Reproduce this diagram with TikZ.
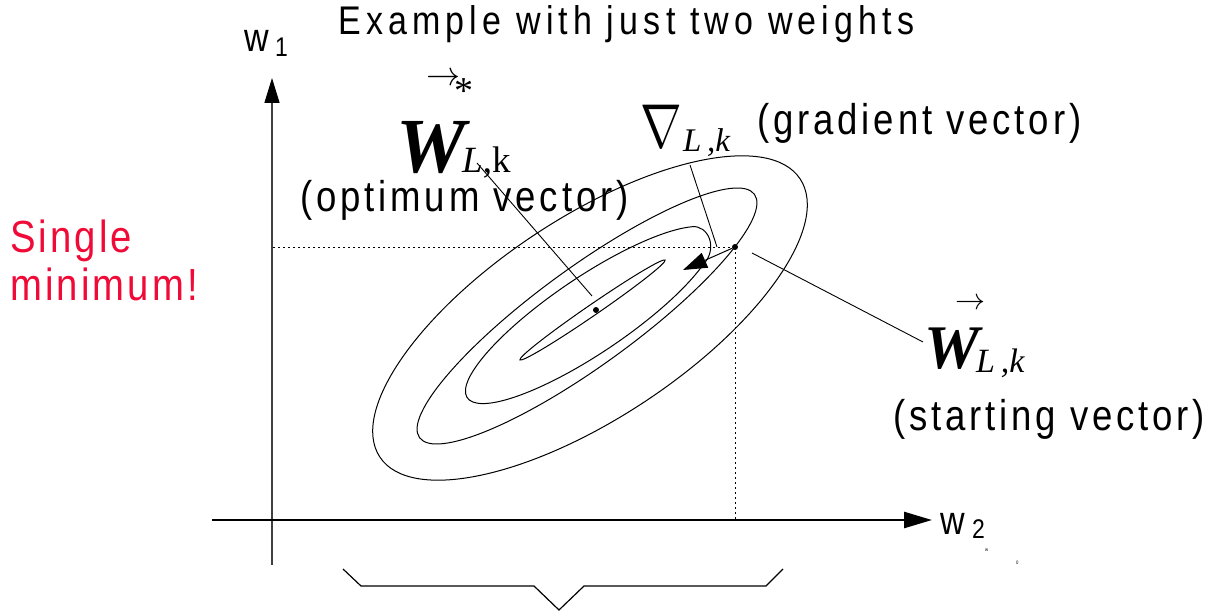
\documentclass[tikz,border=0pt]{standalone}
\usepackage{fontspec}
\setmainfont{Liberation Serif}
\usepackage{graphicx}
\newfontfamily\labfont[FakeStretch=0.85,LetterSpace=9]{Liberation Sans}
\newfontfamily\titlefont[FakeStretch=0.85,LetterSpace=13]{Liberation Sans}
\newfontfamily\redfont[FakeStretch=0.85,LetterSpace=7]{Liberation Sans}
\usetikzlibrary{arrows.meta}
\definecolor{minred}{RGB}{240,10,55}
\begin{document}
\begin{tikzpicture}[x=1pt,y=-1pt,
  lbl/.style={inner sep=0pt, anchor=base west},
  cont/.style={line width=1pt},
  leader/.style={line width=0.9pt},
  guide/.style={line width=1pt, dash pattern=on 2pt off 3pt},
  dotnode/.style={circle, fill=black, inner sep=0pt, minimum size=6pt},
  sanslab/.style={lbl, font=\labfont\fontsize{43}{43}\selectfont},
]
\useasboundingbox (0,0) rectangle (1207,615);

% axes
\coordinate (yb) at (272,565);
\coordinate (yt) at (272,78);
\coordinate (xl) at (212,520);
\coordinate (xr) at (932,520);
\draw[line width=1.4pt, black!75, -{Triangle[length=25pt,width=15pt,black]}] (yb) -- (yt);
\draw[line width=2.5pt, -{Triangle[length=28pt,width=16pt]}] (xl) -- (xr);

% contours
\draw[cont, rotate around={33.5:(590,318)}] (590,318) ellipse [x radius=252pt, y radius=100pt];
\draw[cont, rotate around={36:(587,316)}] (587,316) ellipse [x radius=207pt, y radius=49pt];
\coordinate (h1) at (692.2,226.7);
\coordinate (h2) at (702.7,265.3);
\draw[cont, rotate around={34:(590,315)}] (711.2,336.8) arc[start angle=-35, end angle=-335, x radius=148pt, y radius=38pt];
\draw[cont] (h1) .. controls (708,225) and (719,248) .. (h2);
\draw[cont, rotate around={34.5:(592.5,310)}] (592.5,310) ellipse [x radius=88pt, y radius=5.5pt];

% points
\node[dotnode] (start) at (735,247) {};
\node[dotnode] (opt) at (596,310) {};
\coordinate (gradtip) at (683,270);
\draw[guide] (start.center) -- (start.center -| yb);
\draw[guide] (start.center) -- (start.center |- xl);
\draw[line width=1pt, -{Triangle[length=24pt,width=16pt]}] (start) -- (gradtip);

% labels
\node[lbl, font=\titlefont\fontsize{40}{40}\selectfont] (title) at (338,35) {Example with just two weights};

\node[lbl, font=\labfont\fontsize{40}{40}\selectfont] (w1) at (244,52) {w};
\node[lbl, font=\labfont\fontsize{27}{27}\selectfont] (w1s) at (275,57) {1};
\node[lbl, font=\labfont\fontsize{40}{40}\selectfont] (w2) at (940,534) {w};
\node[lbl, font=\labfont\fontsize{27}{27}\selectfont] (w2s) at (972,538) {2};
\node[lbl, font=\labfont\fontsize{5}{5}\selectfont] (m1) at (985,551) {w};
\node[lbl, font=\labfont\fontsize{5}{5}\selectfont] (m2) at (1016,564) {0};

\node[lbl, font=\redfont\fontsize{45}{45}\selectfont, text=minred] (single) at (10,252) {Single};
\node[lbl, font=\redfont\fontsize{45}{45}\selectfont, text=minred] (minimum) at (10,300) {minimum!};

% optimum vector
\node[lbl, font=\fontsize{78}{78}\selectfont\bfseries\itshape] (Wopt) at (396,172) {W};
\node[lbl, font=\fontsize{37}{37}\selectfont] (Woptsub) at (462,172) {\textit{L},k};
\node[inner sep=0pt] (Woptarr) at (443,79) {\scalebox{3.4}{$\rightarrow$}};
\node[font=\fontsize{38}{38}\selectfont, inner sep=0pt] (Woptstar) at (464,91) {*};
\node[sanslab] (optlab) at (300,211) {(optimum vector)};

% gradient
\node[lbl] (nab) at (640,147) {\scalebox{5}[6.2]{$\nabla$}};
\node[lbl, font=\fontsize{33}{33}\selectfont\itshape] (nabsub) at (683,152) {L\,,k};
\node[sanslab] (gradlab) at (757,135) {(gradient vector)};

% starting vector
\node[inner sep=0pt] (Wstarr) at (970,304) {\scalebox{3}{$\rightarrow$}};
\node[lbl, font=\fontsize{62}{62}\selectfont\bfseries\itshape] (Wst) at (924,368) {W};
\node[lbl, font=\fontsize{34}{34}\selectfont\itshape] (Wstsub) at (976,372) {L\,,k};
\node[sanslab] (startlab) at (893,430) {(starting vector)};

% leader lines
\coordinate (la1) at (477,163);
\coordinate (la2) at (592,296);
\coordinate (lb0) at (690,165);
\coordinate (lb2) at (717,247);
\coordinate (lc1) at (752,253);
\coordinate (lc2) at (923,342);
\draw[leader] (la1) -- (la2);
\draw[leader] (lb0) -- (lb2);
\draw[leader] (lc1) -- (lc2);

% brace
\coordinate (br1) at (343,569);
\coordinate (br2) at (361,586);
\coordinate (br3) at (534,586);
\coordinate (br4) at (559,610);
\coordinate (br5) at (584,586);
\coordinate (br6) at (766,586);
\coordinate (br7) at (783,569);
\draw[line width=1.2pt] (br1) -- (br2) -- (br3) -- (br4) -- (br5) -- (br6) -- (br7);
\end{tikzpicture}
\end{document}
